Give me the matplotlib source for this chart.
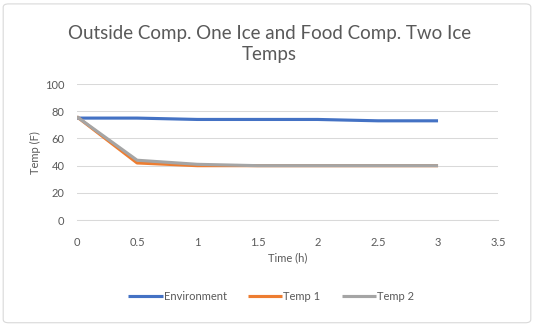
import matplotlib.pyplot as plt
from matplotlib.patches import FancyBboxPatch

# Readings every half hour
time_h = [0, 0.5, 1, 1.5, 2, 2.5, 3]
environment = [75, 75, 74, 74, 74, 73, 73]
temp1 = [76, 42, 40, 40, 40, 40, 40]
temp2 = [76, 44, 41, 40, 40, 40, 40]

x_ticks = [0, 0.5, 1, 1.5, 2, 2.5, 3, 3.5]
x_ticklabels = ['0', '0.5', '1', '1.5', '2', '2.5', '3', '3.5']
y_ticks = [0, 20, 40, 60, 80, 100]

plt.rcParams['font.family'] = ['Lato', 'DejaVu Sans']
text_grey = '#595959'

fig = plt.figure(figsize=(5.34, 3.26), dpi=100)
ax = fig.add_axes([0.144, 0.325, 0.789, 0.417])

ax.plot(time_h, environment, color='#4472C4', linewidth=2.25, label='Environment',
        solid_capstyle='butt')
ax.plot(time_h, temp1, color='#ED7D31', linewidth=2.25, label='Temp 1',
        solid_capstyle='butt')
ax.plot(time_h, temp2, color='#A5A5A5', linewidth=2.25, label='Temp 2',
        solid_capstyle='butt')

ax.set_xlim(0, 3.5)
ax.set_ylim(0, 100)
ax.set_xticks(x_ticks)
ax.set_xticklabels(x_ticklabels)
ax.set_yticks(y_ticks)
ax.tick_params(axis='x', length=0, labelsize=8, labelcolor=text_grey, pad=12)
ax.tick_params(axis='y', length=0, labelsize=8, labelcolor=text_grey, pad=9)
ax.grid(axis='y', color='#d9d9d9', linewidth=0.75)
ax.set_axisbelow(True)
for side in ['top', 'right', 'left']:
    ax.spines[side].set_visible(False)
ax.spines['bottom'].set_color('#d9d9d9')
ax.spines['bottom'].set_linewidth(0.75)

ax.set_xlabel('Time (h)', fontsize=8, color=text_grey, labelpad=3)
ax.set_ylabel('Temp (F)', fontsize=8, color=text_grey, labelpad=3)

fig.text(0.505, 0.865, 'Outside Comp. One Ice and Food Comp. Two Ice\nTemps',
         ha='center', va='center', fontsize=13.5, color=text_grey, linespacing=1.35)

ax.legend(loc='center', bbox_to_anchor=(0.508, 0.092), bbox_transform=fig.transFigure,
          ncol=3, frameon=False, fontsize=8, labelcolor=text_grey,
          handlelength=3.1, handletextpad=0.1, columnspacing=1.9)

# chart border
fig.patches.append(FancyBboxPatch((0.006, 0.01), 0.988, 0.978,
                                  boxstyle='round,pad=0,rounding_size=0.01',
                                  transform=fig.transFigure, facecolor='none',
                                  edgecolor='#d9d9d9', linewidth=0.8))

fig.savefig('out.png', dpi=100, facecolor='white')
